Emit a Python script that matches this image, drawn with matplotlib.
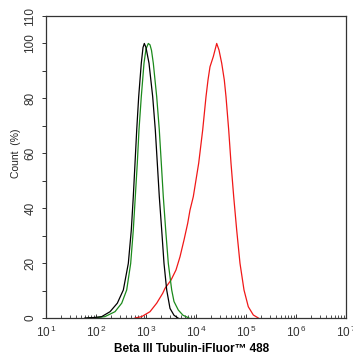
import numpy as np
import matplotlib
matplotlib.use('Agg')
from matplotlib import pyplot as plt
from matplotlib.ticker import FixedLocator, NullFormatter, LogLocator, FuncFormatter

plt.rcParams['font.family'] = ['Liberation Sans', 'DejaVu Sans']
plt.rcParams['mathtext.fontset'] = 'custom'
plt.rcParams['mathtext.rm'] = 'Liberation Sans'

# intensidad (eje x) y porcentaje de cuentas
x_black = [60, 95, 130, 191, 267, 352, 443, 508, 557, 603, 652, 714, 805,
           871, 925, 1000, 1148, 1361, 1535, 1683, 1845, 2061, 2291, 2594,
           3020, 3631, 4365]
c_black = [0, 0.2, 0.5, 2.3, 5.4, 10.2, 19.9, 32, 44.2, 56.4, 68.5, 80.6, 92.8,
           98.5, 100, 98.5, 92.8, 80.6, 68.5, 56.4, 44.2, 32, 19.9, 10.2,
           3.5, 1.0, 0]

x_green = [69, 110, 151, 240, 327, 411, 494, 557, 611, 670, 724, 805, 912,
           1000, 1112, 1202, 1288, 1400, 1637, 1845, 2023, 2218, 2477, 2793,
           3266, 3631, 4426, 5495, 7244]
c_green = [0, 0.2, 0.5, 2.3, 5.4, 10.2, 19.9, 32, 44.2, 56.4, 68.5, 80.6, 92.8,
           98, 100, 99.5, 97.5, 92.8, 80.6, 68.5, 56.4, 44.2, 32, 19.9,
           10.2, 6, 2.9, 1.0, 0]

x_red = [603, 820, 1202, 1637, 2158, 2399, 3162, 3981, 4786, 5754, 6823,
         7586, 8831, 11320, 13610, 15850, 17380, 19050, 22180, 25940,
         28840, 32660, 36810, 39810, 45080, 50120, 56750, 65160, 75860,
         91200, 111200, 140000, 176200]
c_red = [0, 0.5, 2.3, 5.4, 9, 10.8, 13.8, 17.5, 22.3, 28.4, 34.5,
         39.3, 44.2, 56.4, 68.5, 80.6, 86.7, 91.5, 95.2, 100,
         97.6, 92.8, 86.7, 80.6, 68.5, 56.4, 44.2, 32, 19.9,
         10.2, 4.1, 1.1, 0]

y_ticks = [0, 20, 40, 60, 80, 100, 110]
y_minor = [10, 30, 50, 70, 90]

fig = plt.figure(figsize=(3.53, 3.58), dpi=100)
ax = fig.add_axes([46/353, 40/358, 300/353, 302/358])

ax.plot(x_red, c_red, color='#f01818', lw=0.9)
ax.plot(x_green, c_green, color='#1b8a1b', lw=0.9)
ax.plot(x_black, c_black, color='black', lw=0.9)

ax.set_xscale('log')
ax.set_xlim(10, 1e7)
ax.set_ylim(0, 110)

ax.yaxis.set_major_locator(FixedLocator(y_ticks))
ax.yaxis.set_minor_locator(FixedLocator(y_minor))
ax.xaxis.set_major_locator(LogLocator(base=10, numticks=10))
ax.xaxis.set_minor_locator(LogLocator(base=10, subs=np.arange(2, 10), numticks=100))
ax.xaxis.set_minor_formatter(NullFormatter())
ax.xaxis.set_major_formatter(FuncFormatter(lambda v, p: r'$\mathdefault{10^{\,%d}}$' % round(np.log10(v))))

for s in ax.spines.values():
    s.set_color('#333333')
    s.set_linewidth(0.9)

ax.tick_params(axis='y', which='both', direction='out', length=3, width=0.7,
               colors='#333333', labelsize=8.5, pad=4)
ax.tick_params(axis='x', which='major', direction='in', length=3, width=0.7,
               colors='#333333', labelsize=8.5, pad=5)
ax.tick_params(axis='x', which='minor', direction='in', length=2, width=0.6,
               colors='#333333')
for lab in ax.get_yticklabels():
    lab.set_rotation(90)
    lab.set_va('center')

fig.text(16/353, 1 - 153/358, 'Count  (%)', fontsize=7.5, rotation=90,
         ha='center', va='center', color='#222222')
fig.text(192/353, 1 - 349/358, 'Beta III Tubulin-iFluor\u2122 488', fontsize=8.5,
         fontweight='bold', ha='center', va='center')

fig.savefig('out.png', dpi=100)
